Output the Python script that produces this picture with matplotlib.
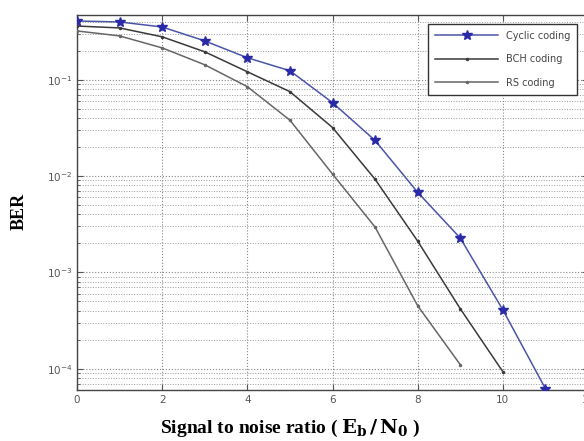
import numpy as np
import matplotlib
matplotlib.use("Agg")
import matplotlib.pyplot as plt
from matplotlib.ticker import LogLocator, NullFormatter

plt.rcParams['mathtext.fontset'] = 'dejavuserif'

snr_cyclic = [0, 1, 2, 3, 4, 5, 6, 7, 8, 9, 10, 11]
ber_cyclic = [0.407, 0.398, 0.353, 0.253, 0.169, 0.124, 0.0578, 0.0234,
              0.00678, 0.00227, 4.08e-4, 6.2e-5]

snr_bch = [0, 1, 2, 3, 4, 5, 6, 7, 8, 9, 10]
ber_bch = [0.361, 0.345, 0.279, 0.195, 0.121, 0.0752, 0.0319, 0.00925,
           0.00211, 4.19e-4, 9.3e-5]

snr_rs = [0, 1, 2, 3, 4, 5, 6, 7, 8, 9]
ber_rs = [0.321, 0.285, 0.214, 0.143, 0.0847, 0.038, 0.0105, 0.00295,
          4.5e-4, 1.1e-4]

labels = ["Cyclic coding", "BCH coding", "RS coding"]
xticks = [0, 2, 4, 6, 8, 10, 12]

W, H = 584, 441
fig = plt.figure(figsize=(W / 100, H / 100), dpi=100)
ax = fig.add_axes([77 / W, 1 - 390 / H, (588 - 77) / W, (390 - 15) / H])

ax.semilogy(snr_cyclic, ber_cyclic, '-', color='#4a55a8', lw=1.1,
            marker='*', markersize=7, markerfacecolor='#2a2aa8',
            markeredgecolor='#2a2aa8', label=labels[0], zorder=4)
ax.semilogy(snr_bch, ber_bch, '-', color='#3a3a3a', lw=1.1,
            marker='.', markersize=3, label=labels[1], zorder=3)
ax.semilogy(snr_rs, ber_rs, '-', color='#666666', lw=1.1,
            marker='.', markersize=3, label=labels[2], zorder=3)

ax.set_xlim(0, 12)
ax.set_ylim(6.0e-5, 0.47)
ax.set_xticks(xticks)
ax.yaxis.set_major_locator(LogLocator(base=10, numticks=10))
ax.yaxis.set_minor_locator(LogLocator(base=10, subs=np.arange(2, 10), numticks=20))
ax.yaxis.set_minor_formatter(NullFormatter())

ax.grid(True, which='major', linestyle=':', color='#888888', lw=0.8)
ax.grid(True, which='minor', axis='y', linestyle=':', color='#999999', lw=0.7)

ax.tick_params(axis='both', which='both', direction='in', colors='#555555',
               labelsize=7.5, top=True, right=True)
ax.tick_params(axis='both', which='major', length=4)
ax.tick_params(axis='both', which='minor', length=2)
for s in ax.spines.values():
    s.set_color('#444444')
    s.set_linewidth(1.0)

ax.set_ylabel("BER", family='Liberation Serif', fontweight='bold',
              fontsize=13)
ax.yaxis.set_label_coords(-0.097, (390 - 211) / 375)
fig.text(290 / W, 1 - 428 / H,
         r"Signal to noise ratio ( $\mathbf{E_b\,/\,N_0}$ )",
         family='Liberation Serif', fontweight='bold', fontsize=14,
         ha='center', va='center')

leg = ax.legend(loc='upper right', bbox_to_anchor=(582 / W, 1 - 19 / H),
                bbox_transform=fig.transFigure, fontsize=7, frameon=True,
                fancybox=False, edgecolor='#333333', framealpha=1,
                labelspacing=1.4, handlelength=6.5, borderpad=0.7)
for t in leg.get_texts():
    t.set_color('#444444')

fig.savefig("out.png", dpi=100)
